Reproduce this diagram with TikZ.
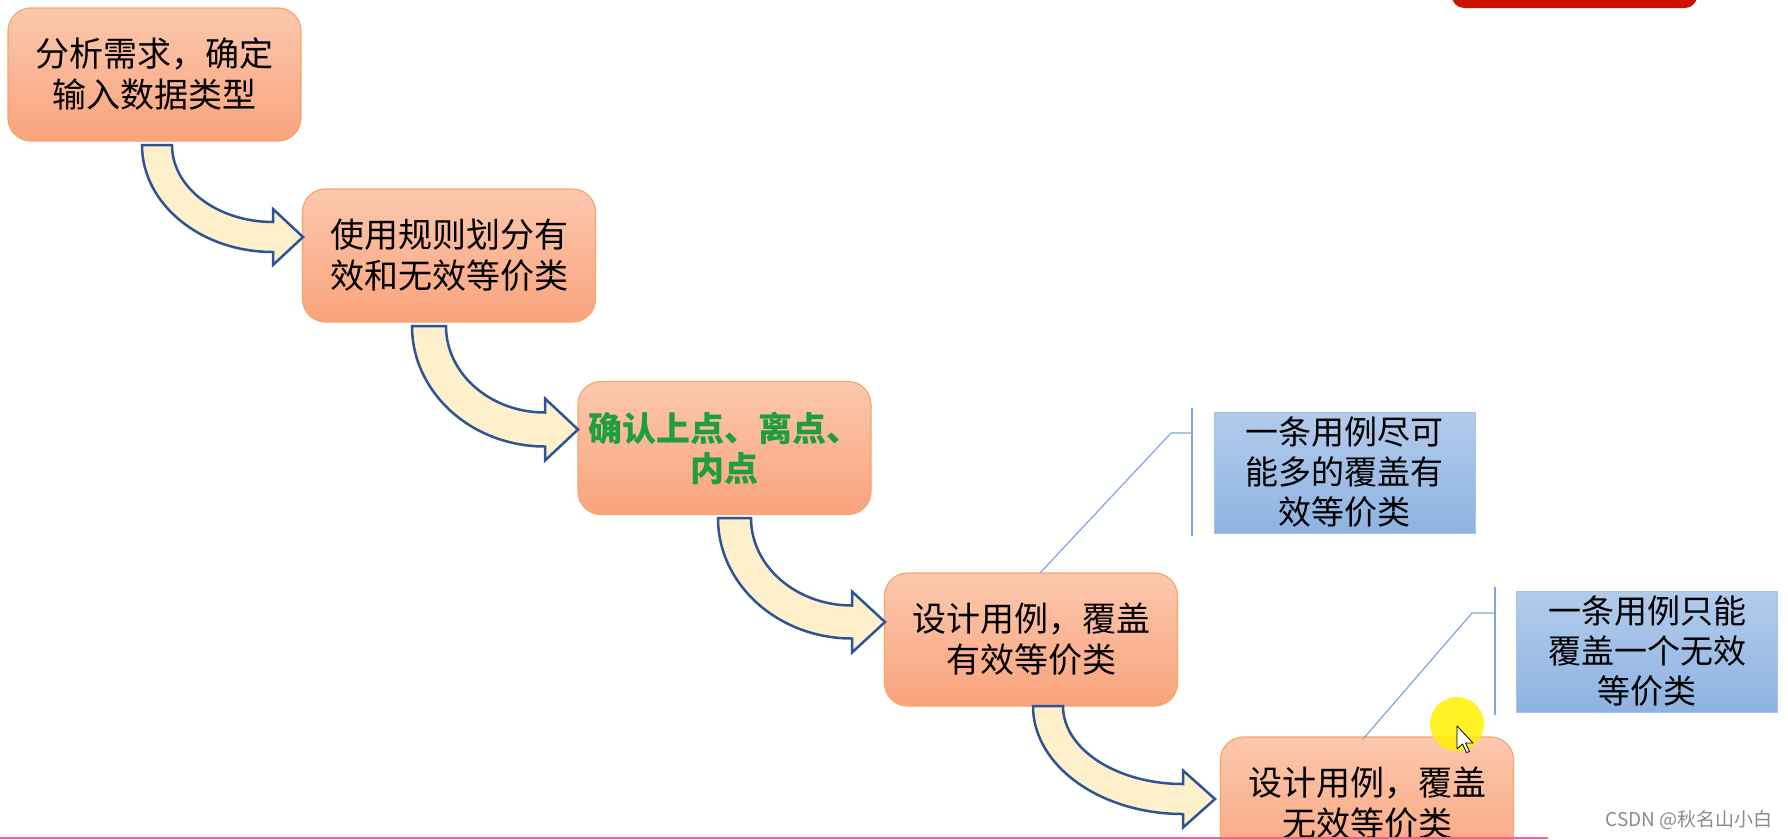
\documentclass[tikz,border=0pt]{standalone}
\usepackage{fontspec}
\newfontfamily\cjk{Noto Sans CJK SC}
\definecolor{orTop}{HTML}{FBC8AE}
\definecolor{orBot}{HTML}{F9A37C}
\definecolor{orLine}{HTML}{F5A66C}
\definecolor{arFill}{HTML}{FEF0CB}
\definecolor{arLine}{HTML}{2F5496}
\definecolor{blTop}{HTML}{B3CBEB}
\definecolor{blBot}{HTML}{8DB3E2}
\definecolor{blLine}{HTML}{A9C3E6}
\definecolor{calloutc}{HTML}{7FA6D8}
\definecolor{grn}{HTML}{1E9E3E}
\definecolor{redtop}{HTML}{CC1100}
\definecolor{pinkline}{HTML}{FF5C9A}
\definecolor{wmgray}{HTML}{8A8A8A}
\definecolor{hilite}{HTML}{FFF000}
\tikzset{
  orbox/.style={rounded corners=23pt, draw=orLine, line width=1.2pt,
    top color=orTop, bottom color=orBot, minimum width=293pt,
    minimum height=133pt, inner sep=0pt, align=center,
    font=\cjk\fontsize{34}{41}\selectfont},
  blbox/.style={draw=blLine, line width=1pt, top color=blTop,
    bottom color=blBot, minimum width=261pt, minimum height=121pt,
    inner sep=0pt, align=center, font=\cjk\fontsize{33}{40}\selectfont},
  blockarrow/.style={fill=arFill, draw=arLine, line width=2.5pt, line join=miter},
  callout/.style={draw=calloutc, line width=1.2pt},
}
% #1 x0, #2 y0, #3 tip x, #4 tip y, #5 shaft width, #6 head length, #7 head half height
\newcommand\bendarrow[7]{%
  \draw[blockarrow] (#1,#2) -- ({#1+#5},#2)
    .. controls ({#1+#5},{#2+0.552*(#4-#5/2-#2)}) and ({#3-#6-0.552*(#3-#6-#1-#5)},{#4-#5/2}) .. ({#3-#6},{#4-#5/2})
    -- ({#3-#6},{#4-#7}) -- (#3,#4) -- ({#3-#6},{#4+#7}) -- ({#3-#6},{#4+#5/2})
    .. controls ({#3-#6-0.552*(#3-#6-#1)},{#4+#5/2}) and (#1,{#2+0.552*(#4+#5/2-#2)}) .. (#1,#2) -- cycle;}
\begin{document}
\begin{tikzpicture}[x=1pt,y=-1pt]
\useasboundingbox (0,0) rectangle (1788,839);
\clip (0,0) rectangle (1788,839);
\fill[white] (0,0) rectangle (1788,839);

% red shape at top
\fill[redtop, rounded corners=12pt] (1452,-30) rectangle (1697,8);

% process boxes
\node[orbox] (b1) at (154.5,74.5) {分析需求，确定\\输入数据类型};
\node[orbox] (b2) at (449,255.5) {使用规则划分有\\效和无效等价类};
\node[orbox, text=grn, font=\cjk\bfseries\fontsize{34}{40}\selectfont] (b3) at (724.5,448) {确认上点、离点、\\内点};
\node[orbox] (b4) at (1031,639.5) {设计用例，覆盖\\有效等价类};
\node[orbox] (b5) at (1367,803.5) {设计用例，覆盖\\无效等价类};

% note boxes
\node[blbox] (n1) at (1344.5,472.5) {一条用例尽可\\能多的覆盖有\\效等价类};
\node[blbox] (n2) at (1647,651.5) {一条用例只能\\覆盖一个无效\\等价类};

% bent arrows
\bendarrow{142}{145}{303}{237}{30}{30}{28}
\bendarrow{412}{326}{578}{429.5}{34}{33}{31}
\bendarrow{718}{518}{885}{622}{33}{33}{30.5}
\bendarrow{1033}{706}{1215}{799}{30}{32}{28.5}

% callouts
\coordinate (c1a) at (1040,573);
\coordinate (c1b) at (1171,433);
\coordinate (c1c) at (1192,433);
\coordinate (v1t) at (1192,408);
\coordinate (v1b) at (1192,536);
\draw[callout] (c1a) -- (c1b) -- (c1c);
\draw[callout] (v1t) -- (v1b);
\coordinate (c2a) at (1363,739);
\coordinate (c2b) at (1472,613);
\coordinate (c2c) at (1495,613);
\coordinate (v2t) at (1495,587);
\coordinate (v2b) at (1495,715);
\draw[callout] (c2a) -- (c2b) -- (c2c);
\draw[callout] (v2t) -- (v2b);

% cursor highlight
\fill[hilite, opacity=0.85] (1457,724) circle[radius=27pt];
\draw[fill=white, draw=black, line width=0.8pt, line join=round]
  (1457,726) -- (1457,749) -- (1462.5,744) -- (1466.5,752.5) -- (1469.5,751.5) -- (1465.5,743) -- (1473,743) -- cycle;

% bottom line and watermark
\draw[pinkline, line width=1.5pt] (0,838) -- (1548,838);
\node[anchor=east, inner sep=0pt, text=wmgray, font=\cjk\fontsize{19}{19}\selectfont] (wm) at (1773,820) {CSDN @秋名山小白};
\end{tikzpicture}
\end{document}
